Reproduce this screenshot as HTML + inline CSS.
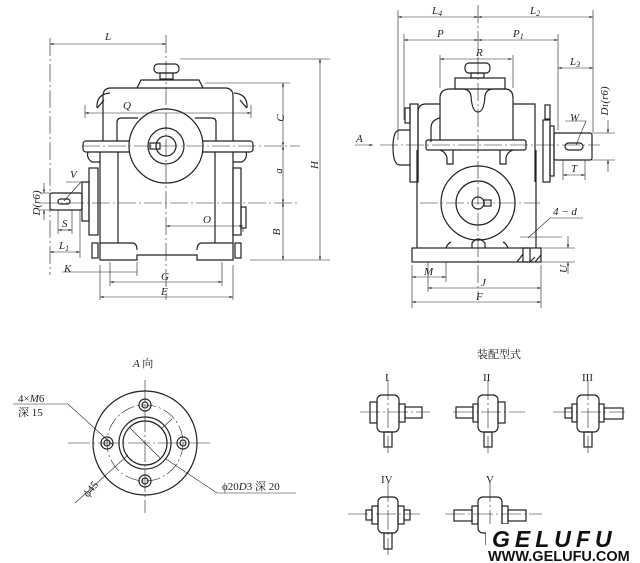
<!DOCTYPE html>
<html><head><meta charset="utf-8"><style>
html,body{margin:0;padding:0;background:#fff}
svg{display:block}
text{font-family:"Liberation Serif","Noto Serif CJK SC",serif;font-size:11px;fill:#222}
.i{font-style:italic}
</style></head><body>
<svg width="640" height="563" viewBox="0 0 640 563" xmlns="http://www.w3.org/2000/svg">
<defs><marker id="a" viewBox="0 0 10 10" refX="10" refY="5" markerWidth="6" markerHeight="6" orient="auto-start-reverse"><path d="M0,2 L10,5 L0,8 z" fill="#222"/></marker></defs>
<g fill="none" stroke="#222" stroke-width="1.2">
<rect x="154" y="64" width="25" height="9" rx="4"/>
<rect x="160" y="73" width="13" height="6"/>
<path d="M137,88 L141,80 L199,80 L203,88"/>
<path d="M103,141 L103,96 Q103,88 111,88 L225,88 Q233,88 233,96 L233,141"/>
<path d="M97,108 Q96,94 110,93 M104,100 Q100,105 97,108"/>
<path d="M247,108 Q248,94 234,93 M240,100 Q244,105 247,108"/>
<path d="M117,141 L117,122 Q117,118 122,118 L138,118 M195,118 L211,118 Q216,118 216,122 L216,141"/>
<rect x="83" y="141" width="170" height="11" rx="3"/>
<circle cx="166" cy="146" r="37" fill="#fff"/>
<circle cx="166" cy="146" r="18"/>
<circle cx="166" cy="146" r="10"/>
<rect x="150" y="143" width="10" height="6"/>
<path d="M100,152 L100,260 L137,260 L137,255 L197,255 L197,260 L233,260 L233,152"/>
<path d="M88,152 Q86,158 92,162 L100,162 M246,152 Q248,158 242,162 L233,162"/>
<path d="M118,152 L118,243 M215,152 L215,243"/>
<path d="M100,243 L132,243 Q137,243 137,250 M233,243 L202,243 Q197,243 197,250"/>
<rect x="89" y="168" width="9" height="67"/>
<rect x="82" y="182" width="7" height="39"/>
<rect x="50" y="193" width="32" height="17" rx="2"/>
<rect x="58" y="199" width="12" height="5" rx="2.5"/>
<rect x="233" y="168" width="8" height="67"/>
<rect x="241" y="207" width="5" height="21"/>
<rect x="92" y="243" width="6" height="15"/><rect x="235" y="243" width="6" height="15"/>
<rect x="465" y="63" width="25" height="10" rx="4"/>
<rect x="471" y="73" width="13" height="5"/>
<rect x="455" y="78" width="50" height="11"/>
<path d="M440,140 L440,98 Q440,89 450,89 L462,89 Q470,89 471,96 Q472,112 478,112 Q484,112 485,96 Q486,89 494,89 L505,89 Q513,89 513,98 L513,140"/>
<rect x="426" y="140" width="100" height="10" rx="2"/>
<path d="M440,150 Q446,152 447,158 L447,164 L453,164 L453,150 M513,150 Q507,152 506,158 L506,164 L500,164 L500,150"/>
<path d="M418,182 L418,112 Q418,104 426,104 L440,104 M513,104 L535,104 L535,182"/>
<path d="M431,142 L431,128 Q431,120 440,118"/>
<rect x="410" y="104" width="8" height="78"/>
<path d="M410,130 L400,130 Q393,130 393,147 Q393,165 400,165 L410,165"/>
<rect x="405" y="108" width="5" height="15"/>
<rect x="543" y="120" width="7" height="62"/>
<rect x="550" y="126" width="4" height="50"/>
<rect x="554" y="133" width="38" height="27" rx="2"/>
<rect x="565" y="143" width="18" height="7" rx="3.5"/>
<rect x="545" y="105" width="5" height="14"/>
<path d="M417,150 L417,248 M536,150 L536,248"/>
<rect x="412" y="248" width="129" height="14"/>
<path d="M472,248 L472,243 Q478,235 485,243 L485,248"/>
<path d="M446,248 Q448,243 451,242 M508,248 Q506,243 503,242"/>
<circle cx="478" cy="203" r="37"/>
<circle cx="478" cy="203" r="22"/>
<circle cx="478" cy="203" r="6"/>
<rect x="484" y="200" width="7" height="6"/>
<rect x="523" y="248" width="7" height="14"/>
<path d="M517,262 L523,254 M530,262 L535,257 M535,262 L541,255"/>
<circle cx="145" cy="443" r="52"/>
<circle cx="145" cy="443" r="26"/>
<circle cx="145" cy="443" r="22"/>
<circle cx="145" cy="405" r="6"/><circle cx="145" cy="405" r="3"/>
<circle cx="145" cy="481" r="6"/><circle cx="145" cy="481" r="3"/>
<circle cx="107" cy="443" r="6"/><circle cx="107" cy="443" r="3"/>
<circle cx="183" cy="443" r="6"/><circle cx="183" cy="443" r="3"/>
</g>
<g fill="none" stroke="#222" stroke-width="1.2">
<g transform="translate(388,413)"><rect x="-11" y="-18" width="22" height="37" rx="5"/><rect x="-18" y="-11" width="7" height="21"/><rect x="11" y="-9" width="6" height="18"/><rect x="17" y="-6" width="17" height="11"/><rect x="-4" y="19" width="8" height="15"/></g>
<g transform="translate(488,413)"><rect x="-10" y="-18" width="20" height="37" rx="5"/><rect x="-15" y="-9" width="5" height="18"/><rect x="-32" y="-6" width="17" height="11"/><rect x="10" y="-11" width="7" height="21"/><rect x="-4" y="19" width="8" height="15"/></g>
<g transform="translate(588,413)"><rect x="-11" y="-18" width="22" height="37" rx="5"/><rect x="-16" y="-9" width="5" height="18"/><rect x="-23" y="-5" width="7" height="10"/><rect x="11" y="-9" width="5" height="18"/><rect x="16" y="-5" width="19" height="11"/><rect x="-4" y="19" width="8" height="15"/></g>
<g transform="translate(388,515)"><rect x="-10" y="-18" width="20" height="36" rx="5"/><rect x="-16" y="-9" width="6" height="18"/><rect x="-22" y="-5" width="6" height="10"/><rect x="10" y="-9" width="6" height="18"/><rect x="16" y="-5" width="6" height="10"/><rect x="-4" y="18" width="8" height="16"/></g>
<g transform="translate(490,515)"><rect x="-12" y="-18" width="24" height="36" rx="5"/><rect x="-18" y="-9" width="6" height="18"/><rect x="-36" y="-5" width="18" height="11"/><rect x="12" y="-9" width="6" height="18"/><rect x="18" y="-5" width="18" height="11"/><path d="M-4,18 L-4,30"/></g>
</g>
<g stroke="#222" stroke-width="0.6" fill="none">
<path d="M166,35 L166,300 M50,38 L50,275 M82,146 L300,146 M40,203 L300,203" stroke-dasharray="18,3,2,3"/>
<path d="M180,59 L330,59 M205,83 L290,83 M250,260 L330,260 M85,105 L85,118 M251,105 L251,118 M100,265 L100,300 M233,265 L233,300 M110,262 L110,286 M222,262 L222,286 M137,262 L137,276 M80,210 L80,258 M58,210 L58,234 M72,210 L72,234 M40,193 L50,193 M40,210 L50,210 M243,228 L243,232"/>
<line x1="50" y1="44" x2="166" y2="44" marker-start="url(#a)" marker-end="url(#a)"/>
<line x1="85" y1="113" x2="251" y2="113" marker-start="url(#a)" marker-end="url(#a)"/>
<line x1="283" y1="83" x2="283" y2="146" marker-start="url(#a)" marker-end="url(#a)"/>
<line x1="283" y1="146" x2="283" y2="203" marker-start="url(#a)" marker-end="url(#a)"/>
<line x1="283" y1="203" x2="283" y2="260" marker-start="url(#a)" marker-end="url(#a)"/>
<line x1="320" y1="59" x2="320" y2="260" marker-start="url(#a)" marker-end="url(#a)"/>
<line x1="166" y1="226" x2="243" y2="226" marker-start="url(#a)" marker-end="url(#a)"/>
<line x1="44" y1="183" x2="44" y2="193" marker-end="url(#a)"/><line x1="44" y1="220" x2="44" y2="210" marker-end="url(#a)"/>
<line x1="58" y1="230" x2="72" y2="230" marker-start="url(#a)" marker-end="url(#a)"/>
<line x1="50" y1="252" x2="80" y2="252" marker-start="url(#a)" marker-end="url(#a)"/>
<line x1="110" y1="282" x2="222" y2="282" marker-start="url(#a)" marker-end="url(#a)"/>
<line x1="100" y1="297" x2="233" y2="297" marker-start="url(#a)" marker-end="url(#a)"/>
<path d="M62,272 L137,272 M66,182 L81,182 L64,201"/>
<path d="M478,5 L478,300 M380,145 L600,145 M420,203 L540,203" stroke-dasharray="18,3,2,3"/>
<path d="M398,10 L398,140 M593,10 L593,132 M404,34 L404,120 M558,34 L558,130 M440,55 L440,88 M513,55 L513,88 M412,265 L412,308 M541,265 L541,308 M446,262 L446,282 M428,262 L428,292 M592,133 L615,133 M592,160 L615,160 M541,248 L575,248 M541,262 L575,262 M563,160 L563,180 M585,160 L585,180"/>
<line x1="398" y1="17" x2="478" y2="17" marker-start="url(#a)" marker-end="url(#a)"/>
<line x1="478" y1="17" x2="593" y2="17" marker-start="url(#a)" marker-end="url(#a)"/>
<line x1="404" y1="40" x2="478" y2="40" marker-start="url(#a)" marker-end="url(#a)"/>
<line x1="478" y1="40" x2="558" y2="40" marker-start="url(#a)" marker-end="url(#a)"/>
<line x1="440" y1="59" x2="512" y2="59" marker-start="url(#a)" marker-end="url(#a)"/>
<line x1="558" y1="68" x2="593" y2="68" marker-start="url(#a)" marker-end="url(#a)"/>
<line x1="608" y1="120" x2="608" y2="133" marker-end="url(#a)"/><line x1="608" y1="172" x2="608" y2="160" marker-end="url(#a)"/>
<line x1="563" y1="175" x2="585" y2="175" marker-start="url(#a)" marker-end="url(#a)"/>
<line x1="412" y1="277" x2="446" y2="277" marker-start="url(#a)" marker-end="url(#a)"/>
<line x1="428" y1="288" x2="541" y2="288" marker-start="url(#a)" marker-end="url(#a)"/>
<line x1="412" y1="302" x2="541" y2="302" marker-start="url(#a)" marker-end="url(#a)"/>
<line x1="568" y1="236" x2="568" y2="248" marker-end="url(#a)"/><line x1="568" y1="274" x2="568" y2="262" marker-end="url(#a)"/>
<line x1="355" y1="145" x2="373" y2="145" marker-end="url(#a)"/>
<path d="M520,237 L553,237 M530,237 L562,237 M528,238 L550,218 L583,218 M565,121 L586,121 L576,145"/>
<path d="M145,380 L145,513 M68,443 L212,443" stroke-dasharray="22,3,2,3"/>
<circle cx="145" cy="443" r="38" stroke-dasharray="14,3,2,3"/>
<path d="M13,404 L68,404 L113,445 M128,455 L75,503 M161,429 L172,419 M166,459 L217,493 L296,493 M130,428 L160,458"/>
<path d="M360,412 L430,412 M388,380 L388,453 M453,412 L525,412 M488,380 L488,453 M553,412 L625,412 M588,380 L588,453 M348,514 L420,514 M388,482 L388,555 M445,514 L542,514 M490,482 L490,530" stroke-dasharray="20,3,2,3"/>
</g>
<g>
<text x="105" y="40" class="i">L</text>
<text x="123" y="109" class="i">Q</text>
<text x="284" y="118" class="i" transform="rotate(-90 284 118)" text-anchor="middle">C</text>
<text x="286" y="175" class="i" transform="rotate(-90 282 175)" text-anchor="middle">a</text>
<text x="280" y="232" class="i" transform="rotate(-90 280 232)" text-anchor="middle">B</text>
<text x="318" y="165" class="i" transform="rotate(-90 318 165)" text-anchor="middle">H</text>
<text x="203" y="223" class="i">O</text>
<text x="40" y="203" class="i" transform="rotate(-90 40 203)" text-anchor="middle">D(r6)</text>
<text x="70" y="178" class="i">V</text>
<text x="62" y="227" class="i">S</text>
<text x="59" y="249" class="i">L<tspan font-size="8" dy="2">1</tspan></text>
<text x="64" y="272" class="i">K</text>
<text x="161" y="280" class="i">G</text>
<text x="161" y="295" class="i">E</text>
<text x="432" y="14" class="i">L<tspan font-size="8" dy="2">4</tspan></text>
<text x="530" y="14" class="i">L<tspan font-size="8" dy="2">2</tspan></text>
<text x="437" y="37" class="i">P</text>
<text x="513" y="37" class="i">P<tspan font-size="8" dy="2">1</tspan></text>
<text x="476" y="56" class="i">R</text>
<text x="570" y="65" class="i">L<tspan font-size="8" dy="2">3</tspan></text>
<text x="612" y="105" class="i" transform="rotate(-90 608 105)" text-anchor="middle">D<tspan font-size="8">1</tspan>(r6)</text>
<text x="570" y="121" class="i">W</text>
<text x="571" y="172" class="i">T</text>
<text x="356" y="142" class="i">A</text>
<text x="553" y="215" class="i">4 − d</text>
<text x="567" y="273" class="i" transform="rotate(-90 567 273)">U</text>
<text x="424" y="275" class="i">M</text>
<text x="481" y="286" class="i">J</text>
<text x="476" y="300" class="i">F</text>
<text x="133" y="367" class="i">A <tspan font-style="normal">向</tspan></text>
<text x="18" y="402">4×<tspan class="i">M</tspan>6</text>
<text x="18" y="416">深 15</text>
<text x="82" y="495" transform="rotate(-50 88 490)">ϕ45</text>
<text x="222" y="490">ϕ20<tspan class="i">D</tspan>3 深 20</text>
<text x="477" y="358" font-size="12">装配型式</text>
<text x="385" y="381">I</text>
<text x="483" y="381">II</text>
<text x="582" y="381">III</text>
<text x="381" y="483">IV</text>
<text x="486" y="483">V</text>
<rect x="486" y="524" width="152" height="39" fill="#fff"/>
<text x="492" y="547" style="font-family:'Liberation Sans',sans-serif;font-size:23px;font-weight:bold;font-style:italic;letter-spacing:5px;fill:#111">GELUFU</text>
<text x="488" y="561" style="font-family:'Liberation Sans',sans-serif;font-size:14.5px;font-weight:bold;fill:#111">WWW.GELUFU.COM</text>
</g>
</svg>
</body></html>
